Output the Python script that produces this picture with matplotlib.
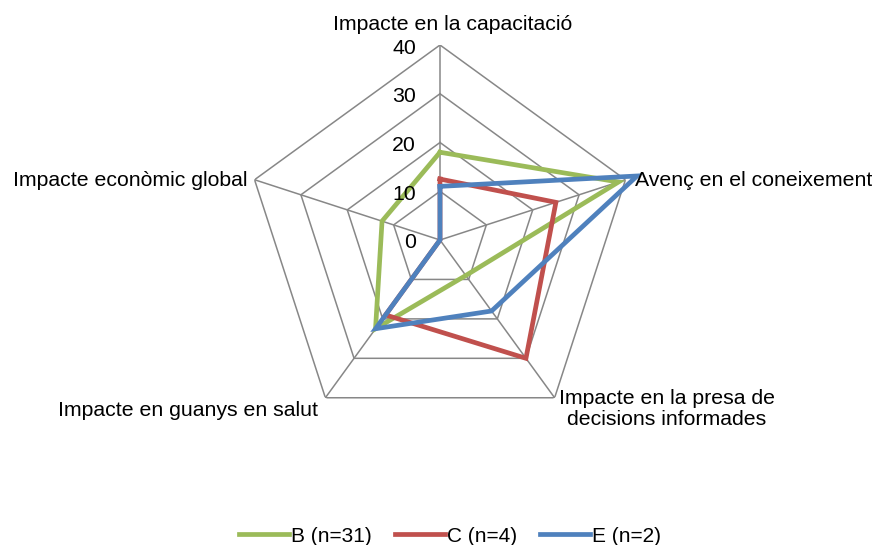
import numpy as np
import matplotlib
matplotlib.use("Agg")
import matplotlib.pyplot as plt

plt.rcParams['font.family'] = ['Liberation Sans', 'DejaVu Sans']

categories = ['Impacte en la capacitació', 'Avenç en el coneixement',
              'Impacte en la presa de\ndecisions informades',
              'Impacte en guanys en salut', 'Impacte econòmic global']
series_names = ['B (n=31)', 'C (n=4)', 'E (n=2)']
B = [18, 38.5, 9, 22.5, 12.5]
C = [12.5, 25, 30, 19, 0]
E = [11, 42.5, 18, 22.5, 0]
r_ticks = [0, 10, 20, 30, 40]
colors = ['#9BBB59', '#C0504D', '#4F81BD']

W, H = 872, 545
fig = plt.figure(figsize=(W / 100, H / 100), dpi=100)
cx, cy, R = 440, 305, 195
ax = fig.add_axes([(cx - R) / W, (cy - R) / H, 2 * R / W, 2 * R / H], projection='polar')
ax.set_theta_zero_location('N')
ax.set_theta_direction(-1)
ax.set_ylim(0, 40)
ax.grid(False)
ax.set_xticks([])
ax.set_yticks([])
ax.spines['polar'].set_visible(False)
ax.patch.set_visible(False)

n = len(categories)
theta = np.arange(n) * 2 * np.pi / n
theta_c = np.append(theta, theta[0])

grid_color = '#878787'
for r in r_ticks[1:]:
    ax.plot(theta_c, [r] * (n + 1), color=grid_color, lw=1.1, zorder=1)
for t in theta:
    ax.plot([t, t], [0, r_ticks[-1]], color=grid_color, lw=1.1, zorder=1)

fs = 15.3
for r in r_ticks:
    ax.annotate(str(r), xy=(0, r), xytext=(-24, -3), textcoords='offset pixels',
                ha='right', va='center', fontsize=fs, color='black', zorder=6)

handles = []
for vals, name, col in zip([B, C, E], series_names, colors):
    v = list(vals) + [vals[0]]
    h, = ax.plot(theta_c, v, color=col, lw=3.4, label=name, zorder=3,
                 clip_on=False, solid_joinstyle='miter')
    handles.append(h)

label_offsets = [(13, 21, 'center'), (10, -1, 'left'), (112, -11, 'center'),
                 (-7, -13, 'right'), (-7, -1, 'right')]
for t, lab, (dx, dy, ha) in zip(theta, categories, label_offsets):
    ax.annotate(lab, xy=(t, r_ticks[-1]), xytext=(dx, dy), textcoords='offset pixels',
                ha=ha, va='center', fontsize=fs, multialignment='center',
                linespacing=1.15, annotation_clip=False, zorder=6)

fig.legend(handles=handles, loc='center', bbox_to_anchor=(450 / W, 9 / H), ncol=3,
           frameon=False, fontsize=15, handlelength=2.4, handletextpad=0.1,
           columnspacing=1.1)

fig.savefig('out.png', dpi=100)
